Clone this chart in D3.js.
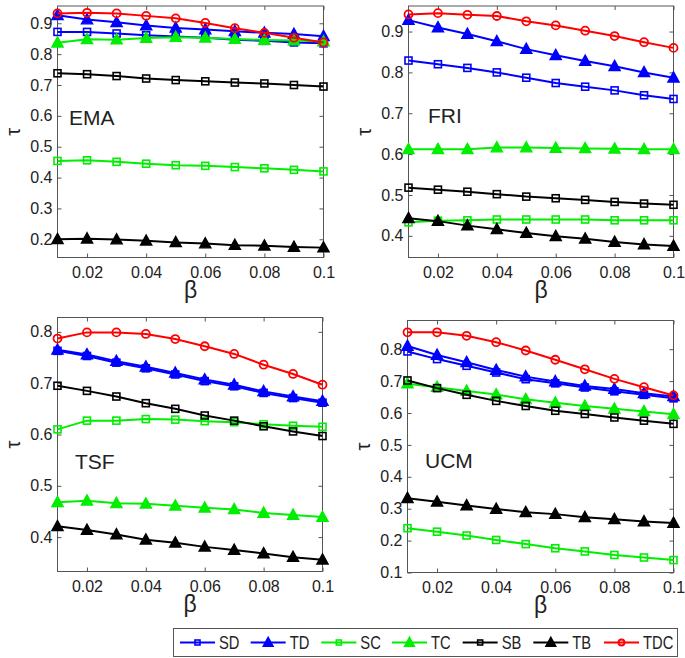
<!DOCTYPE html>
<html>
<head>
<meta charset="utf-8">
<script src="https://cdn.jsdelivr.net/npm/d3@7"></script>
<style>
  html, body { margin: 0; padding: 0; background: #fff; }
  svg { display: block; }
  text { font-family: "Liberation Sans", Arial, Helvetica, sans-serif; fill: #222; }
</style>
</head>
<body>
<svg id="chart" width="685" height="658"></svg>
<script>
// ---------------- data ----------------
const betas = [0.01, 0.02, 0.03, 0.04, 0.05, 0.06, 0.07, 0.08, 0.09, 0.1];
const seriesNames = ["SD", "TD", "SC", "TC", "SB", "TB", "TDC"];
const xTickValues = [0.02, 0.04, 0.06, 0.08, 0.1];
const xTickLabels = ["0.02", "0.04", "0.06", "0.08", "0.1"];

// EMA
const emaSD  = [0.872, 0.872, 0.867, 0.861, 0.857, 0.853, 0.847, 0.843, 0.838, 0.835];
const emaTD  = [0.926, 0.912, 0.903, 0.893, 0.885, 0.880, 0.874, 0.869, 0.865, 0.858];
const emaSC  = [0.454, 0.456, 0.451, 0.445, 0.440, 0.438, 0.434, 0.430, 0.425, 0.420];
const emaTC  = [0.837, 0.848, 0.847, 0.852, 0.855, 0.853, 0.849, 0.846, 0.844, 0.841];
const emaSB  = [0.738, 0.735, 0.729, 0.721, 0.716, 0.712, 0.708, 0.705, 0.700, 0.695];
const emaTB  = [0.200, 0.202, 0.199, 0.195, 0.190, 0.186, 0.181, 0.179, 0.175, 0.173];
const emaTDC = [0.932, 0.934, 0.932, 0.924, 0.916, 0.901, 0.884, 0.869, 0.853, 0.838];

// FRI
const friSD  = [0.829, 0.820, 0.811, 0.800, 0.787, 0.774, 0.765, 0.756, 0.744, 0.735];
const friTD  = [0.928, 0.910, 0.894, 0.876, 0.857, 0.842, 0.828, 0.815, 0.800, 0.787];
const friSC  = [0.433, 0.437, 0.438, 0.440, 0.440, 0.440, 0.440, 0.438, 0.438, 0.438];
const friTC  = [0.612, 0.612, 0.612, 0.616, 0.616, 0.615, 0.614, 0.613, 0.612, 0.612];
const friSB  = [0.518, 0.513, 0.508, 0.502, 0.496, 0.492, 0.488, 0.483, 0.479, 0.476];
const friTB  = [0.443, 0.436, 0.425, 0.416, 0.407, 0.399, 0.393, 0.385, 0.379, 0.375];
const friTDC = [0.942, 0.945, 0.941, 0.938, 0.925, 0.915, 0.902, 0.889, 0.874, 0.860];

// TSF
const tsfSD  = [0.763, 0.753, 0.740, 0.729, 0.717, 0.704, 0.694, 0.681, 0.671, 0.662];
const tsfTD  = [0.765, 0.756, 0.743, 0.732, 0.720, 0.707, 0.697, 0.684, 0.674, 0.665];
const tsfSC  = [0.610, 0.627, 0.627, 0.630, 0.629, 0.626, 0.624, 0.620, 0.617, 0.615];
const tsfTC  = [0.468, 0.471, 0.466, 0.465, 0.461, 0.457, 0.454, 0.447, 0.443, 0.439];
const tsfSB  = [0.695, 0.685, 0.674, 0.661, 0.650, 0.637, 0.627, 0.616, 0.606, 0.597];
const tsfTB  = [0.421, 0.414, 0.405, 0.395, 0.389, 0.381, 0.375, 0.368, 0.361, 0.356];
const tsfTDC = [0.787, 0.799, 0.799, 0.796, 0.786, 0.772, 0.757, 0.736, 0.718, 0.697];

// UCM
const ucmSD  = [0.793, 0.769, 0.748, 0.727, 0.706, 0.693, 0.680, 0.668, 0.657, 0.646];
const ucmTD  = [0.810, 0.782, 0.759, 0.735, 0.714, 0.699, 0.685, 0.675, 0.662, 0.652];
const ucmSC  = [0.239, 0.228, 0.216, 0.202, 0.189, 0.176, 0.166, 0.155, 0.147, 0.139];
const ucmTC  = [0.692, 0.681, 0.669, 0.658, 0.643, 0.632, 0.622, 0.613, 0.605, 0.596];
const ucmSB  = [0.702, 0.678, 0.657, 0.638, 0.622, 0.607, 0.597, 0.586, 0.576, 0.566];
const ucmTB  = [0.333, 0.322, 0.310, 0.299, 0.289, 0.283, 0.273, 0.267, 0.260, 0.255];
const ucmTDC = [0.853, 0.853, 0.842, 0.822, 0.796, 0.767, 0.737, 0.707, 0.681, 0.655];

const emaYTicks = [0.2, 0.3, 0.4, 0.5, 0.6, 0.7, 0.8, 0.9];
const friYTicks = [0.4, 0.5, 0.6, 0.7, 0.8, 0.9];
const tsfYTicks = [0.4, 0.5, 0.6, 0.7, 0.8];
const ucmYTicks = [0.1, 0.2, 0.3, 0.4, 0.5, 0.6, 0.7, 0.8];

// ---------------- styles ----------------
const styles = {
  SD:  { color: "#0000ff", marker: "square" },
  TD:  { color: "#0000ff", marker: "triangle" },
  SC:  { color: "#00ee00", marker: "square" },
  TC:  { color: "#00ee00", marker: "triangle" },
  SB:  { color: "#000000", marker: "square" },
  TB:  { color: "#000000", marker: "triangle" },
  TDC: { color: "#ff0000", marker: "circle" }
};

const panels = [
  { name: "EMA", rect: { l: 57.5, r: 323.5, t: 6, b: 257.5 }, yDomain: [0.141, 0.956], yTicks: emaYTicks,
    series: { SD: emaSD, TD: emaTD, SC: emaSC, TC: emaTC, SB: emaSB, TB: emaTB, TDC: emaTDC },
    label: { x: 69, y: 125 } },
  { name: "FRI", rect: { l: 408.5, r: 673.5, t: 6, b: 257.5 }, yDomain: [0.347, 0.9625], yTicks: friYTicks,
    series: { SD: friSD, TD: friTD, SC: friSC, TC: friTC, SB: friSB, TB: friTB, TDC: friTDC },
    label: { x: 428, y: 123 } },
  { name: "TSF", rect: { l: 57.5, r: 322.5, t: 317.5, b: 571.5 }, yDomain: [0.333, 0.828], yTicks: tsfYTicks,
    series: { SD: tsfSD, TD: tsfTD, SC: tsfSC, TC: tsfTC, SB: tsfSB, TB: tsfTB, TDC: tsfTDC },
    label: { x: 75, y: 469 } },
  { name: "UCM", rect: { l: 407.5, r: 673.5, t: 320.5, b: 572.5 }, yDomain: [0.1, 0.89], yTicks: ucmYTicks,
    series: { SD: ucmSD, TD: ucmTD, SC: ucmSC, TC: ucmTC, SB: ucmSB, TB: ucmTB, TDC: ucmTDC },
    label: { x: 425, y: 468 } }
];

const svg = d3.select("#chart");

function drawMarker(g, type, x, y, color, size) {
  if (type === "square") {
    g.append("rect").attr("x", x - size / 2).attr("y", y - size / 2)
      .attr("width", size).attr("height", size)
      .attr("fill", "none").attr("stroke", color).attr("stroke-width", 1.6);
  } else if (type === "triangle") {
    const h = size * 1.05;
    g.append("path")
      .attr("d", `M${x},${y - h * 0.62} L${x + size * 0.62},${y + h * 0.45} L${x - size * 0.62},${y + h * 0.45} Z`)
      .attr("fill", color).attr("stroke", color).attr("stroke-width", 1.4).attr("stroke-linejoin", "miter");
  } else {
    g.append("circle").attr("cx", x).attr("cy", y).attr("r", size / 2 + 0.5)
      .attr("fill", "none").attr("stroke", color).attr("stroke-width", 1.8);
  }
}

panels.forEach(p => {
  const R = p.rect;
  const x = d3.scaleLinear().domain([0.01, 0.1]).range([R.l, R.r]);
  const y = d3.scaleLinear().domain(p.yDomain).range([R.b, R.t]);
  const g = svg.append("g");

  // axes (ticks inside)
  const axL = g.append("g").attr("transform", `translate(${R.l},0)`)
    .call(d3.axisLeft(y).tickValues(p.yTicks).tickSize(-4).tickPadding(5).tickFormat(d3.format(".1f")));
  const axR = g.append("g").attr("transform", `translate(${R.r},0)`)
    .call(d3.axisRight(y).tickValues(p.yTicks).tickSize(-4).tickFormat(""));
  const axB = g.append("g").attr("transform", `translate(0,${R.b})`)
    .call(d3.axisBottom(x).tickValues(xTickValues).tickSize(-4).tickPadding(9)
      .tickFormat((d, i) => xTickLabels[i]));
  const axT = g.append("g").attr("transform", `translate(0,${R.t})`)
    .call(d3.axisTop(x).tickValues(xTickValues).tickSize(-4).tickFormat(""));
  [axL, axR, axB, axT].forEach(a => {
    a.select(".domain").remove();
    a.selectAll(".tick line").attr("stroke", "#555").attr("stroke-width", 1);
    a.selectAll("text").attr("font-size", 16).attr("fill", "#222")
      .attr("font-family", '"Liberation Sans", Arial, sans-serif');
  });
  axB.selectAll("text").attr("dy", "0.71em");

  g.append("rect").attr("x", R.l).attr("y", R.t).attr("width", R.r - R.l).attr("height", R.b - R.t)
    .attr("fill", "none").attr("stroke", "#555").attr("stroke-width", 1);

  // series
  const line = d3.line().x((d, i) => x(betas[i])).y(d => y(d));
  seriesNames.forEach(name => {
    const vals = p.series[name];
    const st = styles[name];
    const sg = g.append("g");
    sg.append("path").datum(vals).attr("d", line)
      .attr("fill", "none").attr("stroke", st.color).attr("stroke-width", 2);
    vals.forEach((v, i) => drawMarker(sg, st.marker, x(betas[i]), y(v), st.color,
      st.marker === "triangle" ? 9 : 7));
  });

  // panel name
  g.append("text").attr("x", p.label.x).attr("y", p.label.y)
    .attr("font-size", 21).attr("fill", "#222").text(p.name);

  // axis labels
  const cy = (R.t + R.b) / 2;
  g.append("text").attr("transform", `translate(${R.l - 38},${cy}) rotate(-90)`)
    .attr("text-anchor", "middle").attr("font-size", 20).attr("fill", "#222")
    .attr("font-family", '"DejaVu Serif", "Liberation Serif", serif').text("τ");
  g.append("text").attr("x", (R.l + R.r) / 2).attr("y", R.b + 40)
    .attr("text-anchor", "middle").attr("font-size", 23).attr("fill", "#222")
    .attr("font-family", '"Liberation Sans", Arial, sans-serif').text("β");
});

// ---------------- legend ----------------
const legend = svg.append("g");
const lgBox = { l: 173.5, r: 677.5, t: 628.5, b: 656.5 };
legend.append("rect").attr("x", lgBox.l).attr("y", lgBox.t)
  .attr("width", lgBox.r - lgBox.l).attr("height", lgBox.b - lgBox.t)
  .attr("fill", "#fff").attr("stroke", "#555").attr("stroke-width", 1);
const legendX = d3.scalePoint().domain(seriesNames).range([180, 604]);
const lgY = (lgBox.t + lgBox.b) / 2;
seriesNames.forEach((name, i) => {
  const st = styles[name];
  const x0 = legendX(name);
  legend.append("line").attr("x1", x0).attr("x2", x0 + 35).attr("y1", lgY).attr("y2", lgY)
    .attr("stroke", st.color).attr("stroke-width", 2);
  drawMarker(legend, st.marker, x0 + 17.5, lgY, st.color, st.marker === "triangle" ? 8 : 5);
  legend.append("text").attr("transform", `translate(${x0 + 39},${lgY + 6.5}) scale(0.82,1)`)
    .attr("font-size", 18).attr("fill", "#222")
    .attr("font-family", '"Liberation Sans", Arial, sans-serif')
    .text(name);
});
</script>
</body>
</html>
